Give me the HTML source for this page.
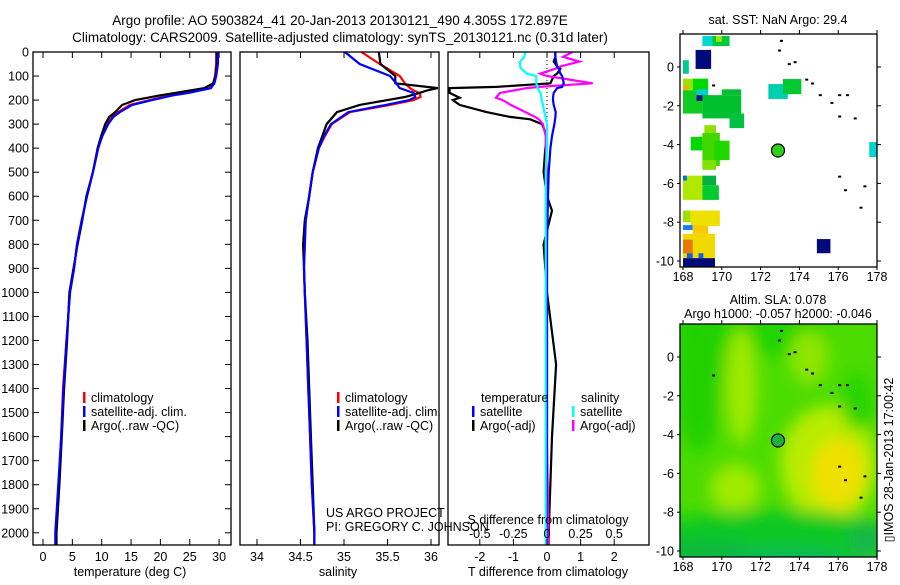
<!DOCTYPE html>
<html><head><meta charset="utf-8"><style>
body{margin:0;background:#fff;width:900px;height:580px;overflow:hidden;font-family:"Liberation Sans",sans-serif}
svg text{font-family:"Liberation Sans",sans-serif;fill:#000}
</style></head><body>
<svg id="fig" width="900" height="580" xmlns="http://www.w3.org/2000/svg">
<text x="340" y="25" font-size="13.5" text-anchor="middle">Argo profile: AO 5903824_41 20-Jan-2013 20130121_490 4.305S 172.897E</text>
<text x="340" y="42" font-size="13.5" text-anchor="middle">Climatology: CARS2009. Satellite-adjusted climatology: synTS_20130121.nc (0.31d later)</text>
<g id="g1"></g>
<g id="g2"></g>
<g id="g3"></g>
<g id="m1"></g>
<g id="m2"></g>
<text transform="translate(893,460) rotate(-90)" font-size="12.5" text-anchor="middle">▯IMOS 28-Jan-2013 17:00:42</text>
</svg>
<script>
// ---- data ----
const tDepth=[0,50,100,130,150,170,180,200,220,250,270,300,350,400,500,600,700,800,900,1000,1200,1400,1600,1800,2000,2054];
const tClim=[29.5,29.5,29.3,29.0,28.4,24.2,21.6,18.2,14.8,12.8,11.8,10.9,10.0,9.4,8.5,7.5,6.6,5.8,5.3,4.6,4.0,3.4,3.1,2.7,2.2,2.2];
const tSat=[29.8,29.8,29.5,29.2,28.6,24.8,22.2,18.6,15.2,13.1,12.0,11.1,10.1,9.4,8.5,7.5,6.6,5.8,5.3,4.6,4.0,3.5,3.1,2.6,2.1,2.1];
const tArgo=[29.6,29.6,29.4,29.0,27.5,22.5,20.0,15.7,13.5,12.3,11.3,10.6,9.9,9.3,8.5,7.4,6.7,5.9,5.2,4.5,4.1,3.6,3.2,2.8,2.3,2.3];
const sDepth=[0,50,100,130,150,160,170,187,200,220,250,300,350,400,500,600,700,800,900,1000,1200,1400,1600,1800,2000,2054];
const sClim=[35.20,35.41,35.64,35.70,35.76,35.80,35.87,35.88,35.80,35.53,35.07,34.86,34.78,34.71,34.64,34.60,34.56,34.55,34.54,34.55,34.57,34.59,34.61,34.63,34.66,34.66];
const sSat=[35.01,35.18,35.53,35.60,35.64,35.72,35.80,35.82,35.75,35.48,35.05,34.85,34.77,34.71,34.64,34.60,34.56,34.55,34.54,34.55,34.57,34.59,34.61,34.63,34.66,34.66];
const sArgo=[35.40,35.42,35.59,35.59,36.08,35.95,35.87,35.70,35.50,35.18,34.92,34.80,34.75,34.70,34.64,34.60,34.55,34.53,34.54,34.55,34.58,34.60,34.62,34.64,34.66,34.66];
const dDepth=[0,20,40,60,70,90,100,130,145,150,170,190,200,220,250,270,280,300,350,400,500,600,660,800,1000,1300,1600,2000,2054];
const dTsat=[0.24,0.25,0.27,0.3,0.35,0.4,0.45,0.5,0.45,0.3,0.2,0.18,0.18,0.2,0.26,0.25,0.24,0.22,0.15,0.1,0.05,0.03,0.02,0.0,0.0,0.0,0.0,-0.02,-0.02];
const dTargo=[0.25,0.25,0.2,0.3,0.4,0.3,0.2,0.1,-1.5,-2.9,-2.9,-2.6,-2.8,-2.6,-1.8,-1.1,-0.5,-0.15,0.0,-0.05,-0.1,0.0,0.15,-0.1,0.0,0.27,0.15,0.05,0.05];
const dSsat=[-0.16,-0.17,-0.2,-0.2,-0.19,-0.15,-0.08,-0.08,-0.07,-0.07,-0.05,-0.04,-0.04,-0.03,-0.02,-0.01,-0.01,0.0,0.0,0.0,-0.01,-0.01,-0.01,-0.01,-0.01,-0.01,-0.01,-0.01,-0.01];
const dSargo=[0.19,0.12,0.24,0.10,0.06,-0.05,0.0,0.34,-0.06,-0.15,-0.35,-0.38,-0.33,-0.27,-0.16,-0.09,-0.06,-0.03,-0.01,-0.01,0.0,0.0,0.0,0.0,0.0,0.0,0.0,0.01,0.01];
const depthTicks=[0,100,200,300,400,500,600,700,800,900,1000,1100,1200,1300,1400,1500,1600,1700,1800,1900,2000];
const tTicks=[0,5,10,15,20,25,30];
const sTicks=[34,34.5,35,35.5,36];
const dTTicks=[-2,-1,0,1,2];
const dSTicks=[-0.5,-0.25,0,0.25,0.5];
const lonTicks=[168,170,172,174,176,178];
const latTicks=[0,-2,-4,-6,-8,-10];
const sstCells=[
[168.65,0.88,169.45,-0.1,'#000a78'],[174.9,-8.87,175.6,-9.6,'#000a78'],[168.0,-9.85,169.65,-10.3,'#000a78'],
[177.6,-3.87,178,-4.64,'#00d4d0'],[172.4,-0.88,173.4,-1.65,'#00d0b0'],[173.15,-0.62,174.1,-1.4,'#00c830'],
[169.0,1.6,169.5,1.08,'#00d8d0'],[169.5,1.6,170.4,1.08,'#00c840'],[169.7,1.6,170.0,1.3,'#a0e800'],
[168.0,0.35,168.3,-0.35,'#00c890'],[168.0,-0.6,168.5,-1.2,'#a0e000'],[168.0,-0.95,168.25,-1.2,'#f0b000'],
[168.5,-0.6,169.3,-1.2,'#00d800'],[168.0,-1.2,169.0,-2.4,'#10cc20'],[168.7,-1.15,169.3,-1.45,'#00d0c8'],
[168.7,-1.45,169.3,-1.75,'#001090'],[169.0,-1.45,171.0,-2.65,'#00c030'],[170.0,-1.15,171.0,-1.45,'#00c030'],
[170.4,-2.4,171.15,-3.15,'#00c040'],[169.1,-3.0,169.7,-3.6,'#90e000'],[169.0,-3.4,169.9,-5.1,'#40d800'],
[168.4,-3.6,169.0,-4.3,'#00d800'],[169.6,-3.8,170.4,-4.8,'#20d800'],[169.0,-4.8,169.7,-5.3,'#80e000'],
[168.0,-5.6,169.0,-6.85,'#b0e800'],[168.0,-5.6,168.2,-5.85,'#0070e0'],[169.0,-5.6,169.7,-6.1,'#00b040'],
[169.0,-6.1,169.85,-6.85,'#00cc30'],[168.0,-7.4,168.4,-8.0,'#a0e000'],[168.4,-7.4,169.9,-8.2,'#f0e000'],
[168.0,-8.15,168.5,-8.4,'#1080f0'],[168.5,-8.15,169.3,-8.6,'#f8c800'],[168.0,-8.6,169.65,-9.85,'#f0d800'],
[168.0,-8.9,168.5,-9.6,'#e87800'],[168.2,-9.6,168.5,-9.85,'#1060e0'],[168.8,-9.6,169.05,-9.85,'#1060e0']];
const islandsLon=[173.0,172.9,173.4,173.7,174.3,174.6,175.0,175.6,176.0,176.4,176.0,176.8,176.0,176.3,177.3,177.1,169.5];
const islandsLat=[1.4,0.9,0.2,0.3,-0.6,-0.8,-1.4,-1.8,-1.4,-1.4,-2.5,-2.6,-5.6,-6.3,-6.1,-7.2,-0.9];
const floatLon=172.897, floatLat=-4.305;

const NS='http://www.w3.org/2000/svg';
function mk(p,tag,attrs,name,txt){const e=document.createElementNS(NS,tag);for(const k in attrs)e.setAttribute(k,attrs[k]);


if(txt!==undefined)e.textContent=txt;p.appendChild(e);return e;}
const TOP=52,BOT=545;
const yD=d=>TOP+d*0.2404;
function line(p,xs,ds,fx,col,name,w){const pts=xs.map((v,i)=>fx(v).toFixed(1)+','+yD(ds[i]).toFixed(1)).join(' ');
mk(p,'polyline',{points:pts,fill:'none',stroke:col,'stroke-width':w||2.2},name);}
function frame(p,x0,x1,name){mk(p,'rect',{x:x0,y:TOP,width:x1-x0,height:BOT-TOP,fill:'none',stroke:'#000','stroke-width':1.3},name);}
function clip(id,x0,x1){const c=mk(document.getElementById('fig'),'clipPath',{id:id},id);mk(c,'rect',{x:x0,y:TOP,width:x1-x0,height:BOT-TOP},id+'-rect');}

const g1=document.getElementById('g1');
const xT=v=>43+v*5.87;
clip('c1',33,231);clip('c2',240,439);clip('c3',448,649);
depthTicks.forEach(d=>{mk(g1,'text',{x:29,y:yD(d)+4.5,'font-size':12.5,'text-anchor':'end'},'depth-tick-label',d);
mk(g1,'line',{x1:33,x2:39,y1:yD(d),y2:yD(d),stroke:'#000'},'depth-tick');mk(g1,'line',{x1:225,x2:231,y1:yD(d),y2:yD(d),stroke:'#000'},'depth-tick-right');});
tTicks.forEach(t=>{mk(g1,'text',{x:xT(t),y:561,'font-size':12.5,'text-anchor':'middle'},'temp-tick-label',t);
mk(g1,'line',{x1:xT(t),x2:xT(t),y1:BOT,y2:BOT-6,stroke:'#000'},'temp-tick');mk(g1,'line',{x1:xT(t),x2:xT(t),y1:TOP,y2:TOP+6,stroke:'#000'},'temp-tick-top');});
mk(g1,'text',{x:130,y:576,'font-size':12.5,'text-anchor':'middle'},'x-axis-title-temperature','temperature (deg C)');
const c1=mk(g1,'g',{'clip-path':'url(#c1)'},'temp-lines');
line(c1,tClim,tDepth,xT,'#f00','temp-climatology-line');
line(c1,tArgo,tDepth,xT,'#000','temp-argo-line');
line(c1,tSat,tDepth,xT,'#00f','temp-satellite-line');
frame(g1,33,231,'temp-frame');
function legend(p,x,y,items,name){items.forEach((it,i)=>{const yy=y+i*14;
mk(p,'rect',{x:x,y:yy-10,width:2.5,height:11,fill:it[1]},name+'-swatch');
mk(p,'text',{x:x+8,y:yy,'font-size':12.5},name+'-label',it[0]);});}
legend(g1,83,402,[['climatology','#f00'],['satellite-adj. clim.','#00f'],['Argo(..raw -QC)','#000']],'temp-legend');

const g2=document.getElementById('g2');
const xS=v=>257+(v-34)*87;
sTicks.forEach(t=>{mk(g2,'text',{x:xS(t),y:561,'font-size':12.5,'text-anchor':'middle'},'sal-tick-label',t);
mk(g2,'line',{x1:xS(t),x2:xS(t),y1:BOT,y2:BOT-6,stroke:'#000'},'sal-tick');mk(g2,'line',{x1:xS(t),x2:xS(t),y1:TOP,y2:TOP+6,stroke:'#000'},'sal-tick-top');});
mk(g2,'text',{x:338,y:576,'font-size':12.5,'text-anchor':'middle'},'x-axis-title-salinity','salinity');
const c2=mk(g2,'g',{'clip-path':'url(#c2)'},'sal-lines');
line(c2,sClim,sDepth,xS,'#f00','sal-climatology-line');
line(c2,sArgo,sDepth,xS,'#000','sal-argo-line');
line(c2,sSat,sDepth,xS,'#00f','sal-satellite-line');
frame(g2,240,439,'sal-frame');
legend(g2,337,402,[['climatology','#f00'],['satellite-adj. clim.','#00f'],['Argo(..raw -QC)','#000']],'sal-legend');
mk(g2,'text',{x:326,y:517,'font-size':12.5},'credit-project','US ARGO PROJECT');
mk(g2,'text',{x:326,y:531,'font-size':12.5},'credit-pi','PI: GREGORY C. JOHNSON');

const g3=document.getElementById('g3');
const xDT=v=>547+v*33.6, xDS=v=>547+v*134.4;
mk(g3,'line',{x1:547,x2:547,y1:TOP,y2:BOT,stroke:'#000','stroke-dasharray':'1,3'},'zero-line');
const c3=mk(g3,'g',{'clip-path':'url(#c3)'},'diff-lines');
line(c3,dTargo,dDepth,xDT,'#000','t-diff-argo-line');
line(c3,dSargo,dDepth,xDS,'#f0f','s-diff-argo-line');
line(c3,dTsat,dDepth,xDT,'#00f','t-diff-satellite-line');
line(c3,dSsat,dDepth,xDS,'#0ff','s-diff-satellite-line');
frame(g3,448,649,'diff-frame');
dTTicks.forEach(t=>{mk(g3,'text',{x:xDT(t),y:561,'font-size':12.5,'text-anchor':'middle'},'tdiff-tick-label',t);
mk(g3,'line',{x1:xDT(t),x2:xDT(t),y1:BOT,y2:BOT-6,stroke:'#000'},'tdiff-tick');mk(g3,'line',{x1:xDT(t),x2:xDT(t),y1:TOP,y2:TOP+6,stroke:'#000'},'tdiff-tick-top');});
dSTicks.forEach(t=>{mk(g3,'text',{x:xDS(t),y:538,'font-size':12.5,'text-anchor':'middle'},'sdiff-tick-label',t);});
mk(g3,'text',{x:548,y:524,'font-size':12.5,'text-anchor':'middle'},'s-diff-axis-title','S difference from climatology');
mk(g3,'text',{x:548,y:576,'font-size':12.5,'text-anchor':'middle'},'t-diff-axis-title','T difference from climatology');
mk(g3,'text',{x:481,y:402,'font-size':12.5},'legend-temperature-heading','temperature');
mk(g3,'text',{x:581,y:402,'font-size':12.5},'legend-salinity-heading','salinity');
legend(g3,472,416,[['satellite','#00f'],['Argo(-adj)','#000']],'tdiff-legend');
legend(g3,572,416,[['satellite','#0ff'],['Argo(-adj)','#f0f']],'sdiff-legend');

function map(id,top,title1,title2,bg){
const g=document.getElementById(id);const L=680,R=877,B=top+233;
const mx=lon=>683+(lon-168)*19.4, my=lat=>top+33+(-lat)*19.4;
if(title2){mk(g,'text',{x:778,y:top-20,'font-size':12.5,'text-anchor':'middle'},id+'-title',title1);
mk(g,'text',{x:778,y:top-6,'font-size':12.5,'text-anchor':'middle'},id+'-subtitle',title2);}
else mk(g,'text',{x:778,y:top-10,'font-size':12.5,'text-anchor':'middle'},id+'-title',title1);
if(bg)bg(g,L,top,R,B,mx,my);
else sstCells.forEach(c=>{mk(g,'rect',{x:mx(c[0]),y:my(c[1]),width:mx(c[2])-mx(c[0]),height:my(c[3])-my(c[1]),fill:c[4]},'sst-cell');});
islandsLon.forEach((lo,i)=>mk(g,'rect',{x:mx(lo),y:my(islandsLat[i]),width:3,height:2,fill:'#000'},'island'));
mk(g,'circle',{cx:mx(floatLon),cy:my(floatLat),r:6.5,fill:bg?'#20b040':'#30d020',stroke:'#000','stroke-width':1.2},'argo-float-marker');
mk(g,'rect',{x:L,y:top,width:R-L,height:B-top,fill:'none',stroke:'#000','stroke-width':1.3},id+'-frame');
lonTicks.forEach(t=>{mk(g,'text',{x:mx(t),y:B+14,'font-size':12.5,'text-anchor':'middle'},'lon-tick-label',t);
mk(g,'line',{x1:mx(t),x2:mx(t),y1:top,y2:top-4,stroke:'#000'},'lon-tick');mk(g,'line',{x1:mx(t),x2:mx(t),y1:B,y2:B+3,stroke:'#000'},'lon-tick-bottom');});
latTicks.forEach(t=>{mk(g,'text',{x:674,y:my(t)+4.5,'font-size':12.5,'text-anchor':'end'},'lat-tick-label',t);
mk(g,'line',{x1:R,x2:R+4,y1:my(t),y2:my(t),stroke:'#000'},'lat-tick');mk(g,'line',{x1:L,x2:L-3,y1:my(t),y2:my(t),stroke:'#000'},'lat-tick-left');});
}
map('m1',34,'sat. SST: NaN Argo: 29.4');
map('m2',324,'Altim. SLA: 0.078','Argo h1000: -0.057 h2000: -0.046',(g,L,T,R,B,mx,my)=>{
const d=mk(g,'defs',{},'sla-defs');const f=mk(d,'filter',{id:'bl',x:'-50%',y:'-50%',width:'200%',height:'200%'},'blur-filter');
mk(f,'feGaussianBlur',{stdDeviation:8},'blur');
const cp=mk(d,'clipPath',{id:'mc'},'map-clip');mk(cp,'rect',{x:L,y:T,width:R-L,height:B-T},'map-clip-rect');
const gg=mk(g,'g',{'clip-path':'url(#mc)'},'sla-field');
mk(gg,'rect',{x:L,y:T,width:R-L,height:B-T,fill:'#4cdc00'},'sla-background');
const b=mk(gg,'g',{filter:'url(#bl)'},'sla-blobs');
const blobs=[[168.8,0,1.3,5,'#22d000'],[172.5,1.5,3,1.5,'#20d400'],[171,-1.5,0.8,3,'#a0ea00'],[170.7,-6.8,1.3,1.3,'#a0ea00'],
[175.5,-5.5,2.5,3,'#b8ec00'],[176,-6,1.4,1.8,'#f0e000'],[174.5,0,1,1.4,'#90e600'],[177,-2.3,0.8,1.5,'#28d400'],
[172.5,-9.5,7,1.6,'#08c820'],[169.5,-10.2,2.5,0.8,'#10b840'],[173.5,-10.4,3,0.6,'#10b858'],[177.5,-9.5,1,1,'#18b848']];
blobs.forEach(o=>mk(b,'ellipse',{cx:mx(o[0]),cy:my(o[1]),rx:o[2]*19.4,ry:o[3]*19.4,fill:o[4]},'sla-blob'));
});
</script>
</body></html>
